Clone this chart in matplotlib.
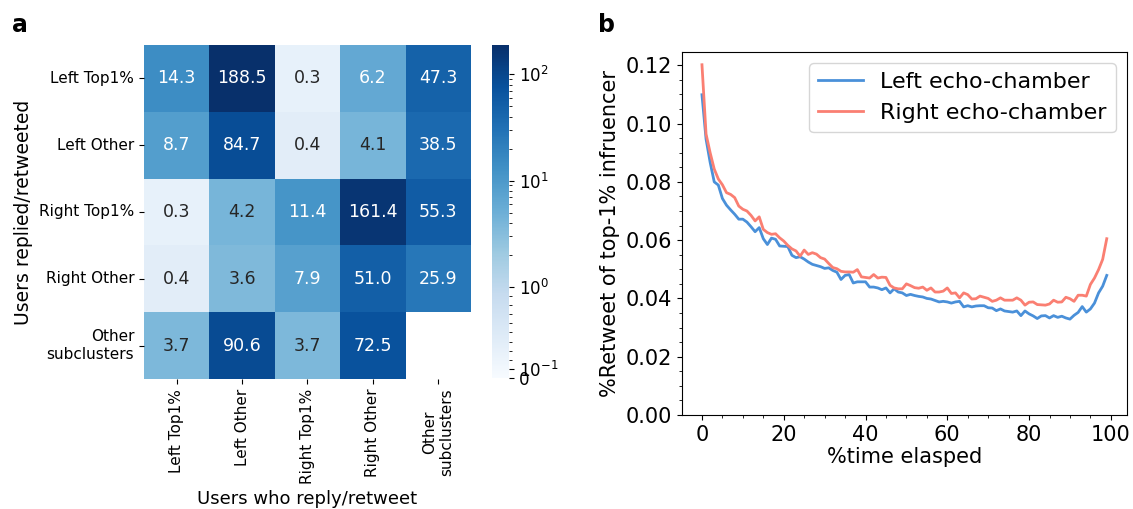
import numpy as np
import matplotlib
matplotlib.use("Agg")
import matplotlib.pyplot as plt
from matplotlib.colors import SymLogNorm
import seaborn as sns

# ------------------------------------------------------------------ dados

groups = ['Left Top1%', 'Left Other', 'Right Top1%', 'Right Other', 'Other\nsubclusters']

# linhas: quem é respondido/retweetado, colunas: quem responde/retweeta
row_left_top = [14.3, 188.5, 0.3, 6.2, 47.3]
row_left_other = [8.7, 84.7, 0.4, 4.1, 38.5]
row_right_top = [0.3, 4.2, 11.4, 161.4, 55.3]
row_right_other = [0.4, 3.6, 7.9, 51.0, 25.9]
row_other = [3.7, 90.6, 3.7, 72.5, np.nan]

time_elapsed = list(range(100))

left_echo = [
    0.1099, 0.0947, 0.0867, 0.0800, 0.0789, 0.0743, 0.0720, 0.0704, 0.0689, 0.0672,
    0.0672, 0.0662, 0.0646, 0.0629, 0.0643, 0.0605, 0.0585, 0.0607, 0.0603, 0.0580,
    0.0579, 0.0578, 0.0548, 0.0540, 0.0543, 0.0535, 0.0525, 0.0517, 0.0513, 0.0509,
    0.0503, 0.0505, 0.0496, 0.0490, 0.0465, 0.0479, 0.0482, 0.0453, 0.0457, 0.0457,
    0.0457, 0.0439, 0.0439, 0.0436, 0.0430, 0.0436, 0.0419, 0.0433, 0.0422, 0.0419,
    0.0410, 0.0414, 0.0410, 0.0407, 0.0405, 0.0400, 0.0398, 0.0393, 0.0388, 0.0390,
    0.0388, 0.0384, 0.0388, 0.0390, 0.0371, 0.0375, 0.0371, 0.0374, 0.0375, 0.0375,
    0.0368, 0.0367, 0.0358, 0.0364, 0.0357, 0.0355, 0.0353, 0.0357, 0.0341, 0.0357,
    0.0347, 0.0340, 0.0331, 0.0340, 0.0341, 0.0333, 0.0341, 0.0335, 0.0339, 0.0333,
    0.0329, 0.0342, 0.0352, 0.0372, 0.0353, 0.0364, 0.0384, 0.0419, 0.0442, 0.0479,
]

right_echo = [
    0.1202, 0.0964, 0.0900, 0.0844, 0.0810, 0.0790, 0.0763, 0.0757, 0.0746, 0.0717,
    0.0706, 0.0700, 0.0685, 0.0666, 0.0680, 0.0637, 0.0626, 0.0620, 0.0622, 0.0608,
    0.0597, 0.0582, 0.0570, 0.0563, 0.0545, 0.0566, 0.0551, 0.0557, 0.0552, 0.0540,
    0.0535, 0.0520, 0.0506, 0.0502, 0.0493, 0.0491, 0.0491, 0.0490, 0.0499, 0.0474,
    0.0472, 0.0470, 0.0482, 0.0470, 0.0473, 0.0472, 0.0445, 0.0436, 0.0433, 0.0433,
    0.0450, 0.0444, 0.0437, 0.0435, 0.0439, 0.0428, 0.0436, 0.0422, 0.0422, 0.0425,
    0.0436, 0.0417, 0.0419, 0.0402, 0.0419, 0.0413, 0.0398, 0.0399, 0.0408, 0.0404,
    0.0400, 0.0390, 0.0394, 0.0402, 0.0394, 0.0394, 0.0394, 0.0402, 0.0394, 0.0377,
    0.0387, 0.0388, 0.0379, 0.0378, 0.0377, 0.0381, 0.0394, 0.0387, 0.0388, 0.0404,
    0.0399, 0.0390, 0.0411, 0.0411, 0.0408, 0.0448, 0.0470, 0.0499, 0.0534, 0.0605,
]

# ------------------------------------------------------------------ figura

fig = plt.figure(figsize=(11.33, 5.09), dpi=100)

ax_hm = fig.add_axes([0.1271, 0.2554, 0.2886, 0.6562])
cax = fig.add_axes([0.4342, 0.2574, 0.0150, 0.6542])
ax_ln = fig.add_axes([0.6017, 0.1847, 0.3930, 0.7131])

# -- a: heatmap --
matrix = np.array([row_left_top, row_left_other, row_right_top, row_right_other, row_other])
norm = SymLogNorm(linthresh=1.0, linscale=0.77, vmin=0, vmax=np.nanmax(matrix), base=10)

sns.heatmap(matrix, ax=ax_hm, cbar_ax=cax, cmap='Blues', norm=norm,
            annot=True, fmt='.1f', annot_kws={'size': 12.5},
            xticklabels=groups, yticklabels=groups)

ax_hm.set_xticklabels(groups, rotation=90, fontsize=11)
ax_hm.set_yticklabels(groups, rotation=0, fontsize=11)
ax_hm.set_xlabel('Users who reply/retweet', fontsize=13)
ax_hm.set_ylabel('Users replied/retweeted', fontsize=13.5)

cbar = ax_hm.collections[0].colorbar
cbar.set_ticks([0, 0.1, 1, 10, 100])
cbar.set_ticklabels(['0', r'$10^{-1}$', r'$10^{0}$', r'$10^{1}$', r'$10^{2}$'])
minor = [k * 10.0 ** n for n in (-1, 0, 1) for k in range(2, 10)]
cbar.ax.yaxis.set_ticks(minor, minor=True)
cbar.ax.tick_params(labelsize=12)

# -- b: curvas --
ax_ln.plot(time_elapsed, left_echo, color='#4a90d9', lw=2, label='Left echo-chamber')
ax_ln.plot(time_elapsed, right_echo, color='#fa7f72', lw=2, label='Right echo-chamber')
ax_ln.set_ylim(bottom=0)
ax_ln.minorticks_on()
ax_ln.tick_params(labelsize=15)
ax_ln.set_xlabel('%time elasped', fontsize=15, labelpad=2)
ax_ln.set_ylabel('%Retweet of top-1% infruencer', fontsize=15)
ax_ln.legend(loc='upper right', fontsize=16)

fig.text(0.011, 0.95, 'a', fontsize=17, fontweight='bold', va='center')
fig.text(0.528, 0.95, 'b', fontsize=17, fontweight='bold', va='center')

plt.savefig('out.png', dpi=100)
plt.close()
